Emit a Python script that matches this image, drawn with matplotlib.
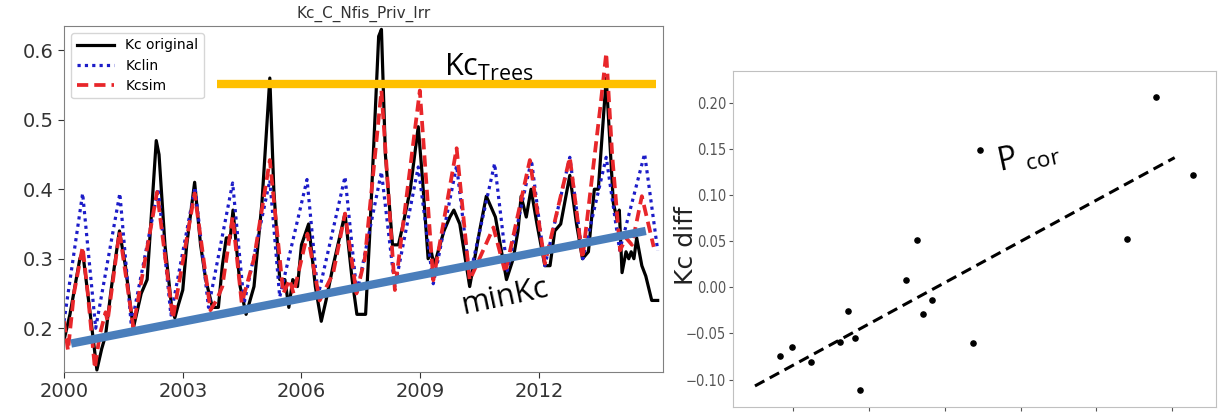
import matplotlib
matplotlib.use("Agg")
import matplotlib.pyplot as plt

# --- left panel: Kc time series (decimal years, Kc) ---
kc_orig_t = [2000.00, 2000.15, 2000.40, 2000.47, 2000.60, 2000.83, 2000.95, 2001.05, 2001.20, 2001.40,
             2001.55, 2001.75, 2001.95, 2002.10, 2002.33, 2002.40, 2002.55, 2002.72, 2002.80, 2002.87,
             2003.00, 2003.10, 2003.30, 2003.45, 2003.58, 2003.75, 2003.90, 2004.00, 2004.10, 2004.20,
             2004.27, 2004.45, 2004.60, 2004.80, 2005.00, 2005.20, 2005.30, 2005.45, 2005.58, 2005.68,
             2005.78, 2005.90, 2006.00, 2006.18, 2006.35, 2006.50, 2006.62, 2006.80, 2007.10, 2007.28,
             2007.40, 2007.52, 2007.62, 2007.72, 2007.95, 2008.02, 2008.12, 2008.30, 2008.45, 2008.55,
             2008.75, 2008.95, 2009.05, 2009.20, 2009.28, 2009.35, 2009.45, 2009.60, 2009.75, 2009.85,
             2010.00, 2010.25, 2010.50, 2010.67, 2010.90, 2011.18, 2011.35, 2011.47, 2011.55, 2011.68,
             2011.80, 2011.95, 2012.15, 2012.28, 2012.40, 2012.55, 2012.78, 2012.95, 2013.10, 2013.25,
             2013.40, 2013.50, 2013.70, 2013.88, 2013.98, 2014.03, 2014.10, 2014.20, 2014.27, 2014.33,
             2014.40, 2014.47, 2014.60, 2014.70, 2014.85, 2015.00]
kc_orig_v = [0.183, 0.22, 0.30, 0.31, 0.25, 0.14, 0.17, 0.19, 0.26, 0.34,
             0.29, 0.20, 0.25, 0.27, 0.47, 0.45, 0.32, 0.23, 0.215, 0.23,
             0.255, 0.32, 0.41, 0.32, 0.27, 0.23, 0.23, 0.29, 0.33, 0.33,
             0.37, 0.26, 0.22, 0.26, 0.38, 0.56, 0.40, 0.27, 0.27, 0.23,
             0.27, 0.26, 0.32, 0.35, 0.26, 0.21, 0.24, 0.29, 0.365, 0.27,
             0.22, 0.22, 0.22, 0.33, 0.62, 0.63, 0.45, 0.32, 0.32, 0.345,
             0.40, 0.49, 0.42, 0.30, 0.31, 0.29, 0.31, 0.34, 0.36, 0.37,
             0.35, 0.26, 0.34, 0.39, 0.36, 0.27, 0.30, 0.34, 0.39, 0.36,
             0.40, 0.35, 0.29, 0.29, 0.34, 0.35, 0.42, 0.35, 0.30, 0.31,
             0.40, 0.40, 0.56, 0.38, 0.355, 0.37, 0.28, 0.31, 0.30, 0.31,
             0.30, 0.33, 0.29, 0.275, 0.24, 0.24]

kclin_t = [2000.00, 2000.47, 2000.80, 2001.41, 2001.70, 2002.38, 2002.70, 2003.31, 2003.65, 2004.26,
           2004.55, 2005.20, 2005.45, 2006.14, 2006.42, 2007.10, 2007.40, 2008.02, 2008.36, 2008.95,
           2009.33, 2009.92, 2010.25, 2010.88, 2011.20, 2011.81, 2012.15, 2012.78, 2013.11, 2013.70,
           2014.04, 2014.67, 2015.00]
kclin_v = [0.21, 0.394, 0.20, 0.394, 0.204, 0.401, 0.219, 0.403, 0.23, 0.409,
           0.236, 0.413, 0.245, 0.414, 0.247, 0.418, 0.25, 0.425, 0.259, 0.432,
           0.264, 0.434, 0.274, 0.437, 0.283, 0.442, 0.29, 0.446, 0.30, 0.446,
           0.312, 0.451, 0.312]

kcsim_t = [2000.00, 2000.10, 2000.25, 2000.47, 2000.60, 2000.78, 2000.90, 2001.05, 2001.10, 2001.40,
           2001.75, 2002.35, 2002.75, 2003.30, 2003.70, 2003.85, 2004.00, 2004.26, 2004.49, 2004.80,
           2005.20, 2005.54, 2005.70, 2005.80, 2006.15, 2006.46, 2006.80, 2007.10, 2007.39, 2007.60,
           2008.02, 2008.36, 2008.99, 2009.33, 2009.92, 2010.25, 2010.85, 2011.15, 2011.77, 2012.15,
           2012.78, 2013.10, 2013.55, 2013.70, 2013.85, 2014.05, 2014.20, 2014.35, 2014.60, 2014.90]
kcsim_v = [0.21, 0.168, 0.25, 0.317, 0.25, 0.142, 0.19, 0.223, 0.21, 0.339,
           0.202, 0.396, 0.214, 0.394, 0.226, 0.24, 0.26, 0.36, 0.236, 0.30,
           0.442, 0.25, 0.27, 0.25, 0.336, 0.24, 0.279, 0.365, 0.25, 0.30,
           0.542, 0.255, 0.542, 0.269, 0.459, 0.269, 0.345, 0.28, 0.442, 0.293,
           0.446, 0.30, 0.518, 0.596, 0.45, 0.312, 0.33, 0.32, 0.39, 0.317]

trees_t = [2003.86, 2014.97]
trees_v = [0.551, 0.551]
minkc_t = [2000.18, 2014.70]
minkc_v = [0.178, 0.340]

year_ticks = [2000, 2003, 2006, 2009, 2012]
kc_ticks = [0.2, 0.3, 0.4, 0.5, 0.6]

# --- right panel: Kc diff scatter ---
p_x = [0.833, 0.983, 1.233, 1.618, 1.724, 1.82, 1.878, 2.496, 2.636, 2.711,
       2.838, 3.372, 3.464, 5.399, 5.786, 6.267]
kc_diff = [-0.075, -0.0645, -0.0805, -0.059, -0.026, -0.0545, -0.111, 0.0076, 0.052, -0.0293,
           -0.0134, -0.0605, 0.1497, 0.0525, 0.2068, 0.1225]
fit_x = [0.50, 6.03]
fit_y = [-0.107, 0.141]
diff_ticks = [-0.10, -0.05, 0.00, 0.05, 0.10, 0.15, 0.20]
p_ticks = [1, 2, 3, 4, 5, 6]

plt.rcParams["mathtext.fontset"] = "custom"
plt.rcParams["mathtext.rm"] = "Open Sans"

fig = plt.figure(figsize=(12.22, 4.18), dpi=100)

# left
ax = fig.add_axes([0.0524, 0.110, 0.490, 0.828])
ax.plot(kc_orig_t, kc_orig_v, color="black", lw=2.3, label="Kc original")
ax.plot(kclin_t, kclin_v, color="#1c1cc8", lw=2.3, ls=(0, (1, 1.3)), label="Kclin")
ax.plot(kcsim_t, kcsim_v, color="#e8262a", lw=2.7, ls=(0, (3, 1.6)), label="Kcsim")
ax.plot(trees_t, trees_v, color="#ffc000", lw=6, solid_capstyle="butt", zorder=5)
ax.plot(minkc_t, minkc_v, color="#4a7ebb", lw=6, solid_capstyle="butt", zorder=5)

ax.set_xlim(2000, 2015.13)
ax.set_ylim(0.137, 0.635)
ax.set_xticks(year_ticks)
ax.set_yticks(kc_ticks)
ax.set_yticklabels([f"{v:.1f}" for v in kc_ticks])
ax.tick_params(labelsize=14, colors="#333333", length=4)
for s in ax.spines.values():
    s.set_color("#808080")
ax.set_title("Kc_C_Nfis_Priv_Irr", fontsize=11, color="#333333", pad=6)
ax.legend(loc="upper left", fontsize=10, handlelength=2.7, labelspacing=0.45)

ax.text(2009.6, 0.575, r"Kc$_{\mathrm{Trees}}$", family="Open Sans", fontsize=22,
        ha="left", va="center", zorder=6)
ax.text(2011.15, 0.245, "minKc", family="Open Sans", fontsize=22, rotation=12,
        ha="center", va="center", zorder=6)

# right
ax2 = fig.add_axes([0.5998, 0.026, 0.395, 0.804])
ax2.scatter(p_x, kc_diff, s=14, color="black", zorder=3)
ax2.plot(fit_x, fit_y, color="black", lw=2.2, ls=(0, (3.5, 2)))
ax2.set_xlim(0.21, 6.57)
ax2.set_ylim(-0.130, 0.235)
ax2.set_yticks(diff_ticks)
ax2.set_yticklabels([f"{v:.2f}".replace("-", "\u2212") for v in diff_ticks],
                    fontsize=10.5, fontstretch="condensed")
ax2.set_xticks(p_ticks)
ax2.set_xticklabels([])
ax2.tick_params(colors="#555555", length=3, pad=2)
for s in ax2.spines.values():
    s.set_color("#c0c0c0")
ax2.set_ylabel("Kc diff", fontsize=18, color="#222222")
ax2.yaxis.set_label_coords(-0.072, 0.48)
ax2.text(4.1, 0.142, r"P $_{\mathrm{cor}}$", family="Open Sans", fontsize=23, rotation=12,
         ha="center", va="center")

fig.savefig("out.png", dpi=100)
